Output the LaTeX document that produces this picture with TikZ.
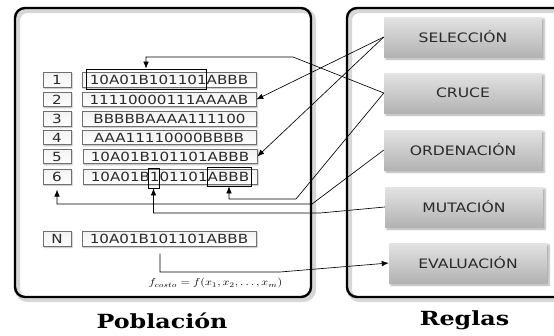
\documentclass[tikz,border=0pt]{standalone}
\usepackage{fontspec}
\usetikzlibrary{arrows.meta,shadows.blur,calc}
\newfontfamily\cellfont[FakeStretch=1.2]{DejaVu Sans}
\newfontfamily\titlefont[FakeStretch=1.22]{DejaVu Serif}
\definecolor{txtgray}{HTML}{2A2A2A}
\definecolor{boxline}{HTML}{707070}
\tikzset{
  panel/.style={line width=2.4pt, rounded corners=10pt},
  panelshadow/.style={line width=5pt, draw=black!35, opacity=0.45, rounded corners=10pt},
  cellbox/.style={draw=boxline, line width=0.6pt, top color=black!5, bottom color=white,
    minimum height=14.5pt, inner sep=0pt, text=txtgray,
    font=\cellfont\fontsize{12.6}{14}\selectfont,
    blur shadow={shadow xshift=1.2pt, shadow yshift=-1.2pt, shadow blur radius=1.2pt, shadow opacity=30}},
  idxbox/.style={cellbox, minimum width=28pt},
  strbox/.style={cellbox, minimum width=174pt},
  rulebox/.style={top color=black!11, bottom color=black!30, draw=none,
    minimum width=158pt, minimum height=40pt, text=txtgray,
    font=\cellfont\fontsize{13}{15}\selectfont,
    blur shadow={shadow xshift=2pt, shadow yshift=-2pt, shadow blur radius=2pt, shadow opacity=35}},
  hlbox/.style={draw=black, line width=0.7pt, inner sep=0pt},
  conn/.style={draw=black, line width=0.65pt},
  arr/.style={conn, -{Latex[length=7pt,width=5.5pt]}},
  title/.style={font=\titlefont\bfseries\fontsize{19.5}{21}\selectfont, anchor=base, inner sep=0pt}
}
\begin{document}
\begin{tikzpicture}[x=1pt,y=-1pt]
\useasboundingbox (0,0) rectangle (554,335);

% frames: population (left) and rules (right)
\draw[panelshadow] (17.5,10.5) rectangle (313.5,299.5);
\draw[panelshadow] (349.5,10.5) rectangle (580,299.5);
\draw[panel] (15,8) rectangle (311,297);
\draw[panel] (347,8) rectangle (578,297);

\node[title] (tpob) at (162,328) {Población};
\node[title] (treg) at (464.5,325) {Reglas};

% population: index column and chromosome strings
\node[idxbox] (i1) at (57,80) {1};
\node[idxbox] (i2) at (57,99.5) {2};
\node[idxbox] (i3) at (57,119) {3};
\node[idxbox] (i4) at (57,137.5) {4};
\node[idxbox] (i5) at (57,156.5) {5};
\node[idxbox] (i6) at (57,177) {6};
\node[idxbox] (iN) at (57,239) {N};

\node[strbox] (s1) at (169,80) {10A01B101101ABBB};
\node[strbox] (s2) at (169,99.5) {11110000111AAAAB};
\node[strbox] (s3) at (169.5,119) {BBBBBAAAA111100};
\node[strbox] (s4) at (169,137.5) {AAA11110000BBBB};
\node[strbox] (s5) at (170,156.5) {10A01B101101ABBB};
\node[strbox] (s6) at (170,177) {10A01B101101ABBB};
\node[strbox] (sN) at (169,239) {10A01B101101ABBB};

% highlighted segments
\node[hlbox, minimum width=120pt, minimum height=20pt] (h1) at (146,79) {};
\node[hlbox, minimum width=11pt, minimum height=20pt] (h6a) at (153.5,178) {};
\node[hlbox, minimum width=44pt, minimum height=19pt] (h6b) at (229,176.5) {};

\node[font=\fontsize{10}{12}\selectfont, inner sep=0pt] (fc) at (215.5,283)
  {\scalebox{1.2}[1]{$f_{costo}=f(x_1,x_2,\ldots,x_m)$}};

% genetic operators
\node[rulebox] (sel) at (463,37) {SELECCIÓN};
\node[rulebox] (cru) at (463,93) {CRUCE};
\node[rulebox] (ord) at (463,150) {ORDENACIÓN};
\node[rulebox] (mut) at (464,207) {MUTACIÓN};
\node[rulebox] (eva) at (468,263) {EVALUACIÓN};

% bend points of the connectors
\coordinate (c1) at (293,57);
\coordinate (c2) at (296,199);
\coordinate (c3) at (312,204);
\coordinate (c4) at (320,213);
\coordinate (c5) at (280,272);
\coordinate (e0) at ([xshift=-9pt,yshift=-7pt]sN.south);

\draw[arr] (sel.west) -- (s2.east);
\draw[arr] (sel.west) -- (s5.east);
\draw[arr] (cru.west) -- (c1) -| (h1.north);
\draw[arr] (cru.west) -- (c2) -| (h6b.south);
\draw[arr] (ord.west) -- (c3) -| ([yshift=-5pt]i6.south);
\draw[arr] (mut.west) -- (c4) -| (h6a.south);
\draw[arr] (e0) |- (c5) -- (eva.west);
\end{tikzpicture}
\end{document}
